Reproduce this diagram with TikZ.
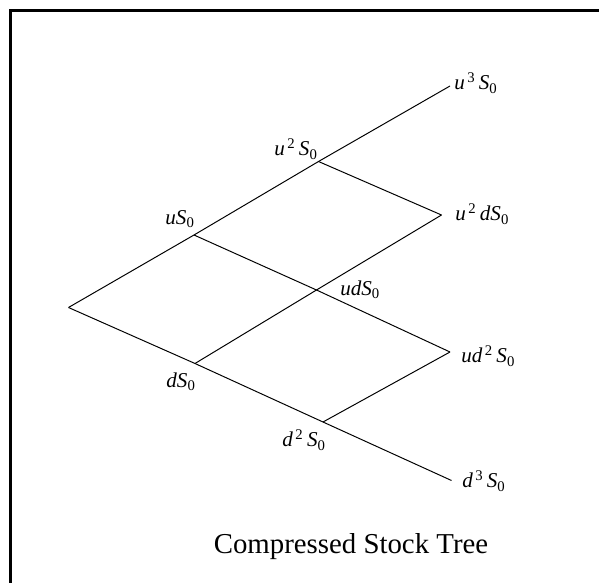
\documentclass[tikz,border=0pt]{standalone}
\usepackage{fontspec}
\setmainfont{Liberation Serif}
\usetikzlibrary{positioning}
\newcommand{\Sz}{\textit{S}\textsubscript{0}}
\newcommand{\pw}[2]{\textit{#1}\textsuperscript{\,#2}\,}

\begin{document}
\begin{tikzpicture}[x=0.025cm, y=-0.025cm,
  branch/.style={draw=black, line width=0.7pt},
  val/.style={inner sep=0pt, font=\fontsize{15}{18}\selectfont},
  caption/.style={inner sep=0pt, font=\fontsize{20.5}{24}\selectfont}]
\useasboundingbox (0,0) rectangle (599,583);
\draw[line width=2.1pt] (10.5,600) -- (10.5,10.5) -- (620,10.5);
% lattice points
\coordinate (s)   at (68.5,307.5);
\coordinate (u)   at (194,235);
\coordinate (d)   at (195,363.5);
\coordinate (uu)  at (318.5,161.5);
\coordinate (ud)  at (316.5,290);
\coordinate (dd)  at (323,422);
\coordinate (uuu) at (450,86);
\coordinate (uud) at (441.5,215);
\coordinate (udd) at (450,352);
\coordinate (ddd) at (451.5,480.5);
\draw[branch] (s) -- (u) -- (uu) -- (uuu);
\draw[branch] (s) -- (d) -- (dd) -- (ddd);
\draw[branch] (u) -- (ud) -- (udd);
\draw[branch] (d) -- (ud) -- (uud);
\draw[branch] (uu) -- (uud);
\draw[branch] (dd) -- (udd);
% values
\node[val] (lu)   at (180,219)   {\textit{u}\Sz};
\node[val] (ld)   at (181,382)   {\textit{d}\Sz};
\node[val] (luu)  at (296,149)   {\pw{u}{2}\Sz};
\node[val] (ldd)  at (304,440)   {\pw{d}{2}\Sz};
\node[val, anchor=west] (lud)  at (340,290)   {\textit{ud}\Sz};
\node[val, anchor=west] (luuu) at (454,83)    {\pw{u}{3}\Sz};
\node[val, anchor=west] (luud) at (455,214)   {\pw{u}{2}\textit{d}\Sz};
\node[val, anchor=west] (ludd) at (461,356)   {\textit{u}\pw{d}{2}\Sz};
\node[val, anchor=west] (lddd) at (462,481)   {\pw{d}{3}\Sz};
\node[caption] (title) at (351,547) {Compressed Stock Tree};
\end{tikzpicture}
\end{document}
